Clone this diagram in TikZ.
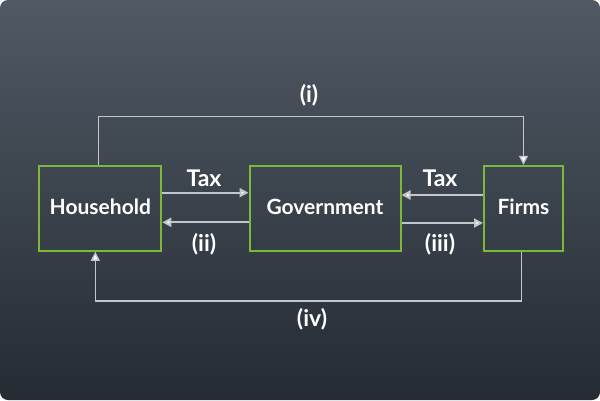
\documentclass[tikz,border=0pt]{standalone}
\usepackage{fontspec}
\setmainfont{Lato}
\usetikzlibrary{arrows.meta,calc}
\definecolor{bgtop}{HTML}{505A64}
\definecolor{bgbot}{HTML}{252B33}
\definecolor{boxgreen}{HTML}{7CB83A}
\definecolor{linegray}{HTML}{C4C7CA}
\tikzset{
  agent/.style={draw=boxgreen, line width=2pt, minimum height=85pt, inner sep=0pt, text=white, font=\fontsize{21}{24}\selectfont\bfseries},
  conn/.style={draw=linegray, line width=1.4pt, -{Triangle[width=9pt,length=9pt,fill=white]}},
  flow/.style={draw=linegray, line width=2pt, -{Triangle[width=9pt,length=9pt,fill=white]}},
  lbl/.style={text=white, font=\fontsize{23}{26}\selectfont\bfseries, inner sep=0pt}
}
\begin{document}
\begin{tikzpicture}[x=1pt,y=-1pt]
\fill[white] (0,0) rectangle (600,400);
\useasboundingbox (0,0) rectangle (600,400);
\shade[top color=bgtop, bottom color=bgbot, rounded corners=8pt] (0,0) rectangle (600,400);
\node[agent, minimum width=122pt] (hh) at (100.3,208.3) {\raisebox{3pt}{Household}};
\node[agent, minimum width=151pt] (gov) at (325,208.3) {\raisebox{3pt}{Government}};
\node[agent, minimum width=79pt] (fi) at (523.5,208.3) {\raisebox{3pt}{Firms}};
\coordinate (i1) at (310,116.7);
\coordinate (i4) at (310,301);
\draw[conn] ([xshift=-2pt]hh.north) |- (i1) -| (fi.north);
\draw[conn] ([xshift=-2pt]fi.south) |- (i4) -| ([xshift=-5pt]hh.south);
\draw[flow] ([yshift=15.6pt]hh.east) -- ([yshift=15.6pt]gov.west);
\draw[flow] ([yshift=-14pt]gov.west) -- ([yshift=-14pt]hh.east);
\draw[flow] ([yshift=13.3pt]fi.west) -- ([yshift=13.3pt]gov.east);
\draw[flow] ([yshift=-14.7pt]gov.east) -- ([yshift=-14.7pt]fi.west);
\node[lbl] (taxl) at (204,178) {Tax};
\node[lbl] (lii) at (204,244) {(ii)};
\node[lbl] (taxr) at (440,178) {Tax};
\node[lbl] (liii) at (440,244) {(iii)};
\node[lbl] (li) at (309,95) {(i)};
\node[lbl] (liv) at (312,319) {(iv)};
\end{tikzpicture}
\end{document}
